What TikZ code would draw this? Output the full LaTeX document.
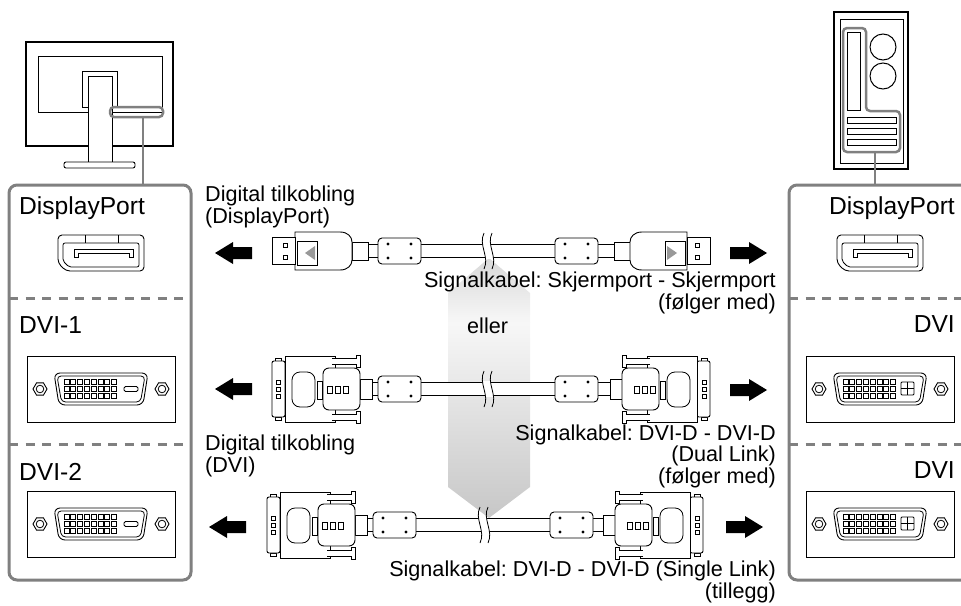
\documentclass[tikz,border=0pt]{standalone}
\usepackage{fontspec}
\setmainfont{Liberation Sans}
\usepackage{tikz}
\usetikzlibrary{positioning}
\frenchspacing

\tikzstyle{portlabel} = [inner sep=0pt, font=\fontsize{24.6}{26}\selectfont]
\tikzstyle{cabletext} = [inner sep=0pt, font=\fontsize{21.6}{20}\selectfont]
\tikzstyle{panelbox} = [draw=gray, line width=3pt, rounded corners=8pt]
\tikzstyle{divider} = [draw=gray, line width=3pt, dash pattern=on 9pt off 7.5pt]
\tikzstyle{hilite} = [draw=gray, line width=2.5pt, rounded corners=4pt]
\tikzstyle{part} = [draw, fill=white, line width=0.9pt]
\tikzstyle{fine} = [draw, line width=0.8pt]

\tikzset{
  screw/.pic={
    \draw[part] (0:7) -- (60:7) -- (120:7) -- (180:7) -- (240:7) -- (300:7) -- cycle;
    \draw[fine] (0,0) circle (3.8);
  },
  dpport/.pic={
    \draw[part, rounded corners=4pt] (-43,-18) -- (43,-18) -- (43,18) -- (-35,18) -- (-43,10) -- cycle;
    \draw[fine, rounded corners=2pt] (-38,-10) -- (38,-10) -- (38,14) -- (-32,14) -- (-38,8) -- cycle;
    \draw[fine] (-16,-18) -- (-16,-10) (17,-18) -- (17,-10);
    \draw[fine] (-27,4) -- (-27,-4) -- (32,-4) -- (32,4) -- (28,4) -- (28,0) -- (-23,0) -- (-23,4) -- cycle;
  },
  dviport/.pic={
    \draw[part] (-74,-33) rectangle (74,33);
    \draw[part, rounded corners=6pt] (-47,-16) -- (47,-16) -- (42,16) -- (-42,16) -- cycle;
    \draw[fine, rounded corners=4pt] (-44,-13) -- (44,-13) -- (39.5,13) -- (-39.5,13) -- cycle;
    \foreach \i in {0,...,7}
      \foreach \j in {0,1,2}
        \draw[fine] (-37+\i*6.8,-9.5+\j*6.7) rectangle ++(5,5);
    \pic at (-61,0) {screw};
    \pic at (61,0) {screw};
  },
  blade/.pic={
    \draw[fine, rounded corners=1.5pt] (23,-2.5) rectangle (37,2.5);
  },
  crosskey/.pic={
    \draw[fine, rounded corners=1pt] (21,-7) rectangle (34,6);
    \draw[line width=1.2pt] (27.5,-7) -- (27.5,6) (21,-0.5) -- (34,-0.5);
  },
  ferrite/.pic={
    \draw[part, rounded corners=4pt] (0,-13) rectangle (43,13);
    \foreach \px in {10,33}
      \foreach \py in {-7,7}
        \fill (\px,\py) circle (1.6);
  },
  dpplug/.pic={
    \draw[part] (80,-9) rectangle (96,9);
    \draw[part] (23,-19) -- (68,-19) .. controls (76,-19) and (80,-14) .. (80,-9)
      -- (80,9) .. controls (80,14) and (76,19) .. (68,19) -- (23,19) -- cycle;
    \draw[part] (0,-14) rectangle (23,13);
    \draw[fine] (25,-10) rectangle (45,14);
    \fill[gray!80] (33,2) -- (43,-5) -- (43,9) -- cycle;
    \draw[fine] (11,-8) rectangle ++(4,4) (11,4) rectangle ++(4,4);
  },
  dviplug/.pic={
    \draw[part] (88,-10) rectangle (100,10);
    \draw[part] (3,-31) rectangle (9,-28) (3,28) rectangle (9,31);
    \draw[part, rounded corners=2pt] (0,-28) rectangle (13,28);
    \foreach \py in {-9,-2,5}
      \draw[fine] (4,\py) rectangle ++(4,4);
    \draw[part] (13,-33) rectangle (63,33);
    \draw[fine, rounded corners=8pt] (20,-17) rectangle (43,18);
    \draw[part] (45,-8) rectangle (50,10);
    \draw[part] (60,-31) -- (84,-31) -- (84,-34) -- (88,-34) -- (88,-22) -- (84,-22) -- (84,-25) -- (60,-25);
    \draw[part] (60,31) -- (84,31) -- (84,34) -- (88,34) -- (88,22) -- (84,22) -- (84,25) -- (60,25);
    \draw[part, rounded corners=6pt] (51,-21) -- (88,-21) -- (88,21) -- (51,21) -- cycle;
    \foreach \px in {55,63,71}
      \draw[fine] (\px,-3) rectangle ++(5,7);
  },
  bigarrow/.pic={
    \fill (0,0) -- (18,-11) -- (18,-6) -- (37,-6) -- (37,6) -- (18,6) -- (18,11) -- cycle;
  },
  cablebreak/.pic={
    \begin{scope}
      \clip (-8,-7.4) rectangle (16,7.4);
      \fill[white] (0,-18) .. controls (-6,-6) and (6,6) .. (0,18) -- (8,18)
        .. controls (14,6) and (2,-6) .. (8,-18) -- cycle;
    \end{scope}
    \draw[fine] (0,-18) .. controls (-6,-6) and (6,6) .. (0,18);
    \draw[fine] (8,-18) .. controls (2,-6) and (14,6) .. (8,18);
  }
}

\begin{document}
\begin{tikzpicture}[x=1pt, y=-1pt]
  \useasboundingbox (0,0) rectangle (961,605);
  \clip (0,0) rectangle (961,605);

  % Alternative marker
  \shade[top color=gray!30, bottom color=gray!6] (448,293) -- (489,258) -- (530,293) -- (530,323) -- (448,323) -- cycle;
  \shade[top color=gray!6, bottom color=gray!44] (448,322) -- (530,322) -- (530,487) -- (489,518) -- (448,487) -- cycle;

  % Monitor
  \draw[line width=1.8pt, fill=white] (26,42) rectangle (173,146);
  \draw[line width=1pt] (38,56) rectangle (162,112);
  \draw[part] (82,71) rectangle (117,107);
  \draw[part] (88,76) rectangle (112,163);
  \draw[part, rounded corners=2pt] (64,162) rectangle (135,168);
  \draw[hilite] (110,107) rectangle (163,117);
  \draw[gray, line width=2.5pt] (143,117) -- (143,185);

  % PC
  \draw[line width=1.8pt, fill=white] (834,12) rectangle (908,169);
  \draw[line width=1pt] (840,19) rectangle (903,163);
  \draw[hilite] (843,28) -- (866,28) -- (866,111) -- (900,111) -- (900,152) -- (843,152) -- cycle;
  \draw[line width=1pt] (847,32) rectangle (860,110);
  \draw[line width=1pt] (883,47) circle (13) (883,76) circle (13);
  \foreach \sy in {117,128,139}
    \draw[line width=1pt] (847,\sy) rectangle (896,\sy+6);
  \draw[gray, line width=2.5pt] (875,152) -- (875,185);

  % Panels
  \draw[panelbox] (9,185) rectangle (191,580);
  \draw[divider] (9,298) -- (191,298) (9,444) -- (191,444);
  \draw[panelbox] (789,185) rectangle (985,580);
  \draw[divider] (789,298) -- (961,298) (789,444) -- (961,444);

  \node[portlabel, anchor=base west] (dpin) at (19,214) {DisplayPort};
  \node[portlabel, anchor=base west] (dvione) at (19,333) {DVI-1};
  \node[portlabel, anchor=base west] (dvitwo) at (19,480) {DVI-2};
  \node[portlabel, anchor=base east] (dpout) at (955,214) {DisplayPort};
  \node[portlabel, anchor=base east] (dviouta) at (955,332) {DVI};
  \node[portlabel, anchor=base east] (dvioutb) at (955,478) {DVI};

  \pic at (101,253) {dpport};
  \pic at (880,253) {dpport};
  \pic at (101,389) {dviport};
  \pic at (101,389) {blade};
  \pic at (101,524) {dviport};
  \pic at (101,524) {blade};
  \pic at (880,389) {dviport};
  \pic at (880,389) {crosskey};
  \pic at (880,524) {dviport};
  \pic at (880,524) {crosskey};

  % DisplayPort cable
  \draw[part] (360,244.5) rectangle (622,257.5);
  \pic at (378,251) {ferrite};
  \pic at (555,251) {ferrite};
  \pic at (484,251) {cablebreak};
  \pic at (272,251) {dpplug};
  \pic[xscale=-1] at (710,251) {dpplug};
  \pic at (215,253) {bigarrow};
  \pic[xscale=-1] at (767,253) {bigarrow};

  % DVI cable (dual link)
  \draw[part] (365,382.5) rectangle (617,395.5);
  \pic at (378,389) {ferrite};
  \pic at (555,389) {ferrite};
  \pic at (484,389) {cablebreak};
  \pic at (272,389) {dviplug};
  \pic[xscale=-1] at (710,389) {dviplug};
  \pic at (215,389) {bigarrow};
  \pic[xscale=-1] at (767,390) {bigarrow};

  % DVI cable (single link)
  \draw[part] (360,518.5) rectangle (610,531.5);
  \pic at (373,525) {ferrite};
  \pic at (550,525) {ferrite};
  \pic at (480,525) {cablebreak};
  \pic at (267,525) {dviplug};
  \pic[xscale=-1] at (703,525) {dviplug};
  \pic at (209,527) {bigarrow};
  \pic[xscale=-1] at (763,527) {bigarrow};

  % Texts (anchored on the baseline of the last line)
  \node[cabletext, anchor=base west, align=left] (dplink) at (205,223) {Digital tilkobling\\(DisplayPort)};
  \node[cabletext, anchor=base east, align=right] (dpcable) at (776,309) {Signalkabel: Skjermport - Skjermport\\(følger med)};
  \node[cabletext, anchor=base west] (alt) at (467,333) {eller};
  \node[cabletext, anchor=base west, align=left] (dvilink) at (205,472) {Digital tilkobling\\(DVI)};
  \node[cabletext, anchor=base east, align=right] (dualcable) at (776,483) {Signalkabel: DVI-D - DVI-D\\(Dual Link)\\(følger med)};
  \node[cabletext, anchor=base east, align=right] (singlecable) at (776,598) {Signalkabel: DVI-D - DVI-D (Single Link)\\(tillegg)};
\end{tikzpicture}
\end{document}
